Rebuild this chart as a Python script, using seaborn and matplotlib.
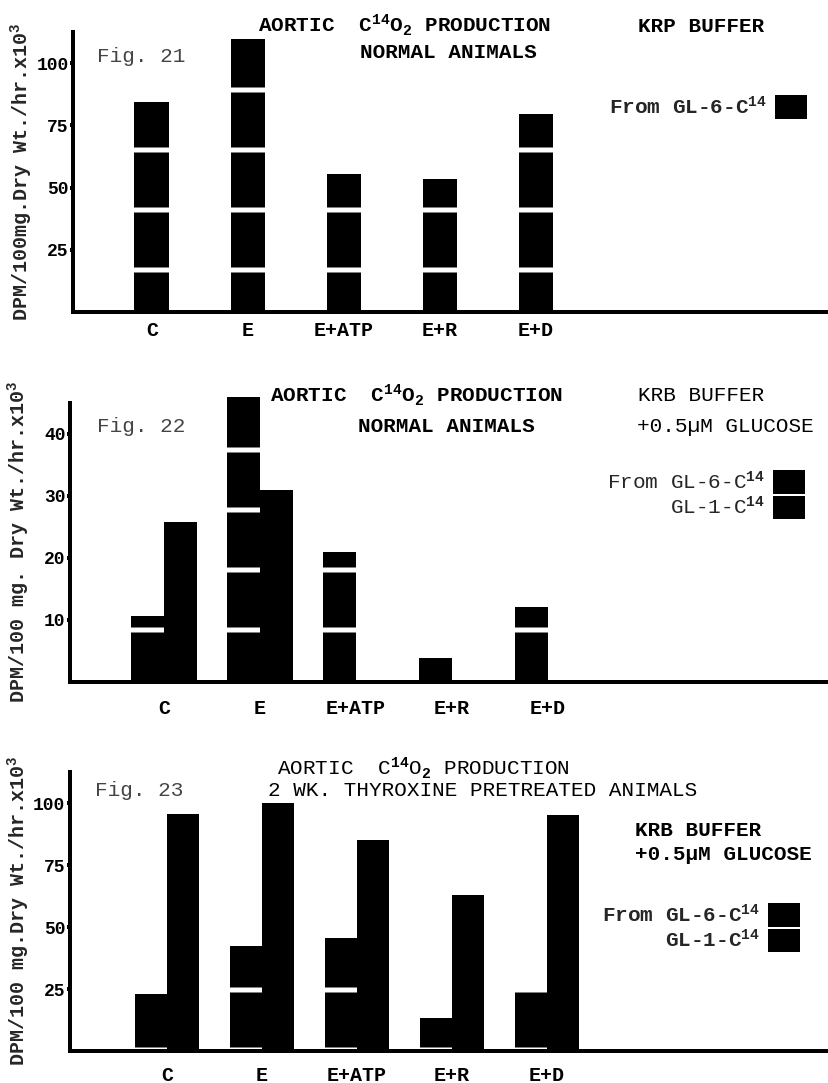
import numpy as np
import pandas as pd
import matplotlib
matplotlib.use("Agg")
import matplotlib.pyplot as plt
from matplotlib.patches import Patch
import seaborn as sns

# treatments along the x axis (same in all three figures)
treatments = ["C", "E", "E+ATP", "E+R", "E+D"]
sources = ["GL-6", "GL-1"]

# Fig. 21 - normal animals, KRP buffer, from GL-6-C14 only
fig21_gl6 = [84.5, 109.5, 55.5, 53.5, 79.5]

# Fig. 22 - normal animals, KRB buffer + 0.5uM glucose
fig22_gl6 = [10.6, 46.0, 21.0, 3.9, 12.1]
fig22_gl1 = [25.8, 31.0, np.nan, np.nan, np.nan]

# Fig. 23 - 2 wk thyroxine pretreated animals
fig23_gl6 = [23.0, 42.5, 45.5, 13.5, 25.5]
fig23_gl1 = [95.5, 100.0, 85.0, 63.0, 95.0]

yticks_21 = [25, 50, 75, 100]
yticks_22 = [10, 20, 30, 40]
yticks_23 = [25, 50, 75, 100]

# high dpi so the '-' hatch gives stripes as sparse as the typed original
W, H, DPI = 829, 1083, 360


def px(p):
    # pixel size -> points
    return p * 72 / DPI


sns.set_theme(style="white")
plt.rcParams["font.family"] = ["Liberation Mono", "DejaVu Sans Mono"]
plt.rcParams["font.weight"] = "bold"
plt.rcParams["mathtext.fontset"] = "custom"
plt.rcParams["mathtext.rm"] = "Liberation Mono:bold"
plt.rcParams["mathtext.it"] = "Liberation Mono:bold"
plt.rcParams["mathtext.bf"] = "Liberation Mono:bold"
plt.rcParams["hatch.linewidth"] = px(5)


def frame(gl6, gl1=None):
    parts = [pd.DataFrame({"treatment": treatments, "source": "GL-6", "dpm": gl6})]
    if gl1 is not None:
        parts.append(pd.DataFrame({"treatment": treatments, "source": "GL-1", "dpm": gl1}))
    return pd.concat(parts, ignore_index=True)


def axes_rect(l, t, r, b):
    return [l / W, 1 - b / H, (r - l) / W, (b - t) / H]


def draw_panel(ax, df, width, xlim, ylim, yticks, ylabel, xpad):
    levels = [s for s in sources if s in df["source"].unique()]
    sns.barplot(data=df, x="treatment", y="dpm", hue="source", order=treatments,
                hue_order=levels, palette={s: "black" for s in levels},
                width=width, errorbar=None, saturation=1, legend=False, ax=ax)
    for cont, src in zip(ax.containers, levels):
        for bar in cont:
            bar.set_linewidth(0)
            bar.set_clip_on(False)
            if src == "GL-6":
                bar.set_hatch("-")
                bar.set_edgecolor("white")
    ax.set_xlim(*xlim)
    ax.set_ylim(*ylim)
    ax.set_yticks(yticks)
    ax.set_yticklabels([str(t) for t in yticks])
    ax.set_xlabel("")
    ax.set_ylabel(ylabel, fontsize=px(20), fontweight="bold")
    ax.yaxis.set_label_coords(-0.05, 0.5)
    sns.despine(ax=ax)
    for side in ["left", "bottom"]:
        ax.spines[side].set_linewidth(px(4))
        ax.spines[side].set_color("black")
    ax.tick_params(axis="y", left=True, direction="out", length=px(3), width=px(4),
                   pad=px(1.5), labelsize=px(18), colors="black")
    ax.tick_params(axis="x", bottom=False, length=0, pad=px(xpad), labelsize=px(20),
                   colors="black")
    for lab in ax.get_xticklabels() + ax.get_yticklabels():
        lab.set_fontweight("bold")


def put(x, y, s, weight="bold", size=21, color="black"):
    fig.text(x / W, 1 - y / H, s, fontsize=px(size), fontweight=weight,
             va="center", ha="left", color=color)


def legend(right, top, two, weight):
    handles = [Patch(facecolor="black", edgecolor="white", hatch="-", linewidth=0,
                     label="From GL-6-C$^{14}$")]
    if two:
        handles.append(Patch(facecolor="black", linewidth=0, label="GL-1-C$^{14}$"))
    fig.legend(handles=handles, loc="upper right", bbox_to_anchor=(right / W, 1 - top / H),
               bbox_transform=fig.transFigure, frameon=False, markerfirst=False,
               prop={"size": px(21), "weight": weight}, handlelength=1.5,
               handleheight=1.35, handletextpad=0.4, labelspacing=0.1,
               borderpad=0, borderaxespad=0)


fig = plt.figure(figsize=(W / DPI, H / DPI), dpi=DPI)

# Fig. 21
ax1 = fig.add_axes(axes_rect(73, 32, 829, 312))
draw_panel(ax1, frame(fig21_gl6), 0.36, (-0.82, 7.05), (0, 112.5), yticks_21,
           "DPM/100mg.Dry Wt./hr.x10$^3$", 9)
put(258, 25, "AORTIC  C$^{14}$O$_2$ PRODUCTION")
put(638, 27, "KRP BUFFER")
put(360, 53, "NORMAL ANIMALS")
put(97, 56, "Fig. 21", weight="normal", color="#444444")
legend(807, 95, False, "bold")

# Fig. 22
ax2 = fig.add_axes(axes_rect(70, 403, 829, 682))
draw_panel(ax2, frame(fig22_gl6, fig22_gl1), 0.68, (-0.98, 6.93), (0, 45), yticks_22,
           "DPM/100 mg. Dry Wt./hr.x10$^3$", 17)
put(270, 395, "AORTIC  C$^{14}$O$_2$ PRODUCTION")
put(638, 395, "KRB BUFFER", weight="normal")
put(358, 427, "NORMAL ANIMALS")
put(637, 427, "+0.5\u00b5M GLUCOSE", weight="normal")
put(97, 427, "Fig. 22", weight="normal", color="#444444")
legend(805, 470, True, "normal")

# Fig. 23
ax3 = fig.add_axes(axes_rect(70, 772, 829, 1051))
draw_panel(ax3, frame(fig23_gl6, fig23_gl1), 0.68, (-1.02, 6.97), (0, 112.5), yticks_23,
           "DPM/100 mg.Dry Wt./hr.x10$^3$", 15)
put(277, 768, "AORTIC  C$^{14}$O$_2$ PRODUCTION", weight="normal")
put(268, 791, "2 WK. THYROXINE PRETREATED ANIMALS", weight="normal")
put(95, 791, "Fig. 23", weight="normal", color="#444444")
put(635, 830, "KRB BUFFER")
put(635, 855, "+0.5\u00b5M GLUCOSE")
legend(800, 903, True, "bold")

fig.savefig("out.png", dpi=DPI)
